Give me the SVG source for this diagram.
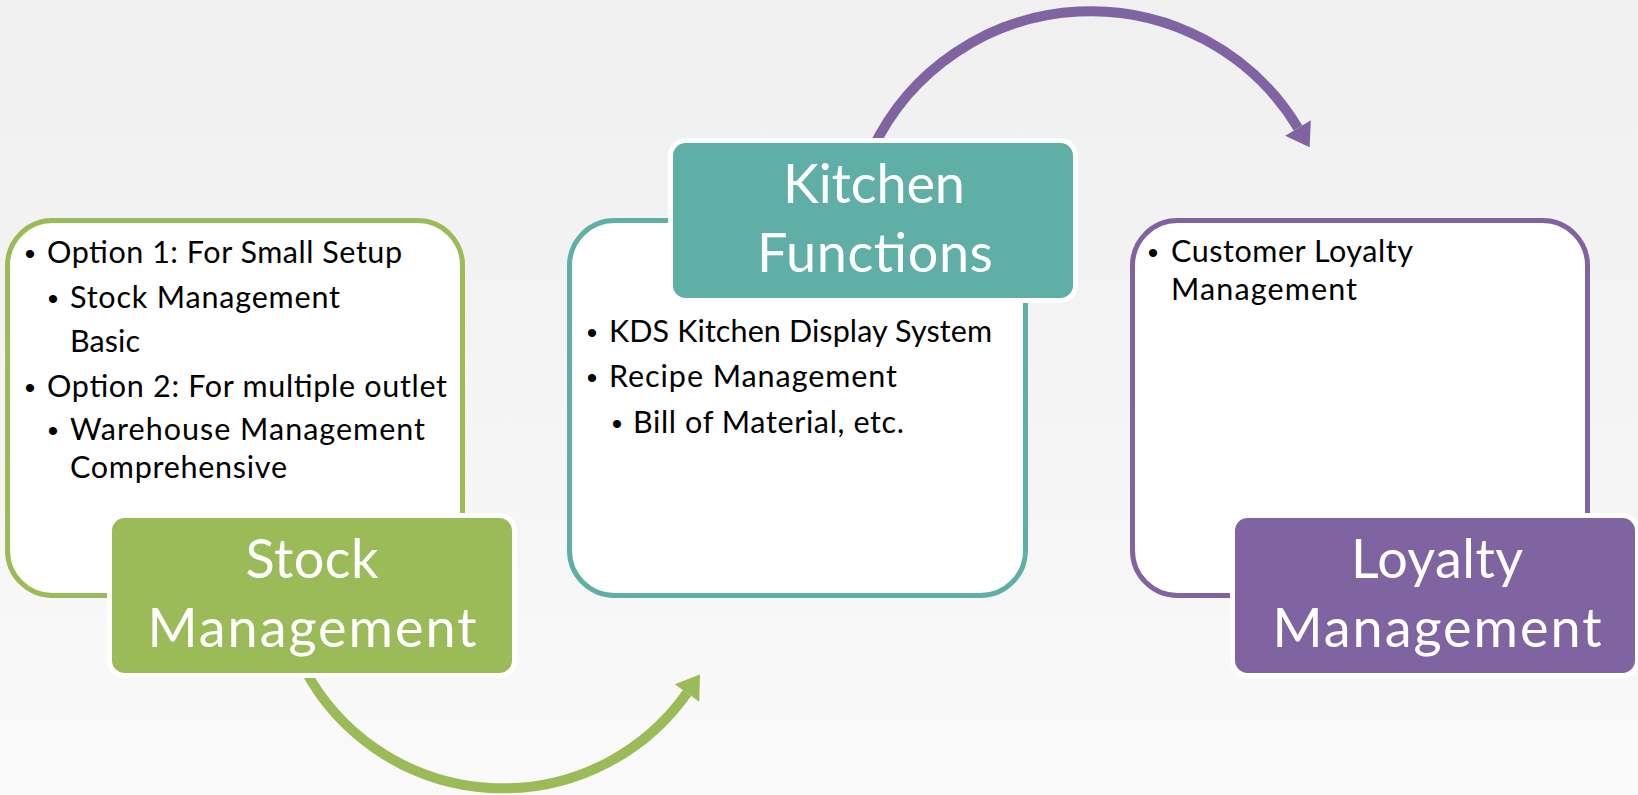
<svg xmlns="http://www.w3.org/2000/svg" width="1638" height="795" viewBox="0 0 1638 795">
  <defs>
    <linearGradient id="bg" x1="0" y1="0" x2="0" y2="1">
      <stop offset="0" stop-color="#f0f0f0"/>
      <stop offset="0.5" stop-color="#f4f4f4"/>
      <stop offset="1" stop-color="#fafafa"/>
    </linearGradient>
    <marker id="headGreen" markerUnits="userSpaceOnUse" markerWidth="30" markerHeight="30" refX="0" refY="14" orient="auto" viewBox="0 0 22 28">
      <path d="M0,0 L21,14 L0,28 z" fill="#9BBB59"/>
    </marker>
    <marker id="headPurple" markerUnits="userSpaceOnUse" markerWidth="30" markerHeight="30" refX="0" refY="14" orient="auto" viewBox="0 0 22 28">
      <path d="M0,0 L21,14 L0,28 z" fill="#8064A2"/>
    </marker>
    <style>
      .body { font-family: Lato, "Open Sans", "Liberation Sans", sans-serif; font-size: 30.5px; fill: #000; }
      .bul { font-family: "Liberation Sans", sans-serif; font-size: 30px; fill: #000; text-anchor: middle; }
      .lbl { font-family: Lato, "Open Sans", "Liberation Sans", sans-serif; font-size: 54px; fill: #fff; text-anchor: middle; }
      .panel { fill: #ffffff; stroke-width: 5; }
      .tag { stroke: #ffffff; stroke-width: 5; }
      .arc { fill: none; stroke-width: 10; }
    </style>
  </defs>

  <rect x="0" y="0" width="1638" height="795" fill="url(#bg)"/>

  <g id="connectors">
    <path class="arc" stroke="#9BBB59" d="M 305 670 A 225 225 0 0 0 687 693" marker-end="url(#headGreen)"/>
    <path class="arc" stroke="#8064A2" d="M 872 150 A 242 242 0 0 1 1298 128" marker-end="url(#headPurple)"/>
  </g>

  <g id="stock">
    <rect class="panel" x="7.5" y="220.5" width="455" height="375" rx="45" stroke="#9BBB59"/>
    <text class="bul" x="30" y="264">•</text>
    <text class="body" x="47" y="263" textLength="355" lengthAdjust="spacing">Option 1: For Small Setup</text>
    <text class="bul" x="53" y="309">•</text>
    <text class="body" x="70" y="308" textLength="270" lengthAdjust="spacing">Stock Management</text>
    <text class="body" x="70" y="352" textLength="70" lengthAdjust="spacing">Basic</text>
    <text class="bul" x="30" y="398">•</text>
    <text class="body" x="47" y="397" textLength="400" lengthAdjust="spacing">Option 2: For multiple outlet</text>
    <text class="bul" x="53" y="441">•</text>
    <text class="body" x="70" y="440" textLength="355" lengthAdjust="spacing">Warehouse Management</text>
    <text class="body" x="70" y="478" textLength="217" lengthAdjust="spacing">Comprehensive</text>
    <rect class="tag" x="109.5" y="515.5" width="405" height="160" rx="15" fill="#9BBB59"/>
    <text class="lbl" x="312" y="578" textLength="133" lengthAdjust="spacing">Stock</text>
    <text class="lbl" x="312" y="647" textLength="329" lengthAdjust="spacing">Management</text>
  </g>

  <g id="kitchen">
    <rect class="panel" x="569.5" y="220.5" width="456" height="375" rx="45" stroke="#5FAFA6"/>
    <text class="bul" x="592" y="343">•</text>
    <text class="body" x="609" y="342" textLength="383" lengthAdjust="spacing">KDS Kitchen Display System</text>
    <text class="bul" x="592" y="388">•</text>
    <text class="body" x="609" y="387" textLength="288" lengthAdjust="spacing">Recipe Management</text>
    <text class="bul" x="617" y="434">•</text>
    <text class="body" x="633" y="433" textLength="271" lengthAdjust="spacing">Bill of Material, etc.</text>
    <rect class="tag" x="670.5" y="140.5" width="405" height="160" rx="15" fill="#5FAFA6"/>
    <text class="lbl" x="874" y="203" textLength="182" lengthAdjust="spacing">Kitchen</text>
    <text class="lbl" x="875" y="272" textLength="236" lengthAdjust="spacing">Functions</text>
  </g>

  <g id="loyalty">
    <rect class="panel" x="1132.5" y="220.5" width="455" height="375" rx="45" stroke="#8064A2"/>
    <text class="bul" x="1153" y="263">•</text>
    <text class="body" x="1171" y="262" textLength="242" lengthAdjust="spacing">Customer Loyalty</text>
    <text class="body" x="1171" y="300" textLength="186" lengthAdjust="spacing">Management</text>
    <rect class="tag" x="1232.5" y="515.5" width="405" height="160" rx="15" fill="#8064A2"/>
    <text class="lbl" x="1437" y="578" textLength="172" lengthAdjust="spacing">Loyalty</text>
    <text class="lbl" x="1437" y="647" textLength="329" lengthAdjust="spacing">Management</text>
  </g>
</svg>
